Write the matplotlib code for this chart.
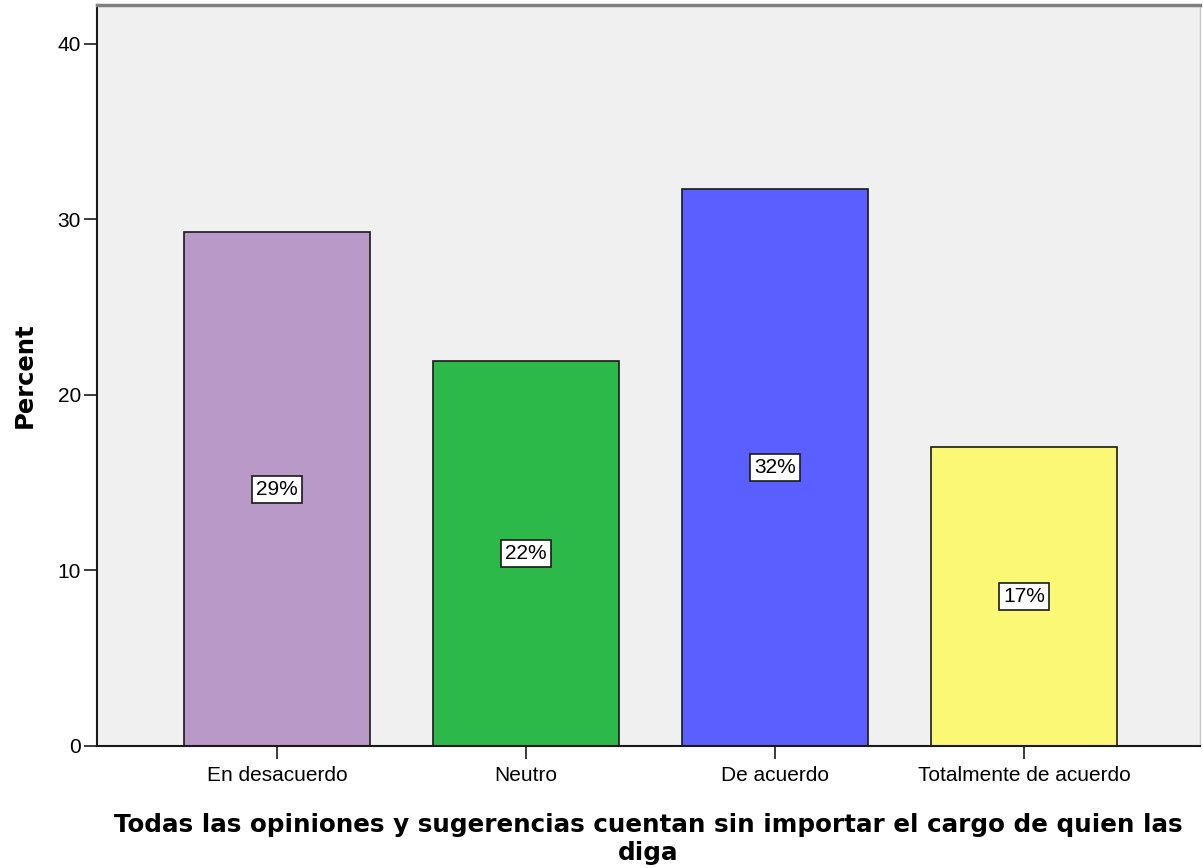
import numpy as np
import matplotlib.pyplot as plt

categorias = ['En desacuerdo', 'Neutro', 'De acuerdo', 'Totalmente de acuerdo']
porcentajes = [29.25, 21.95, 31.75, 17.05]
etiquetas = ['29%', '22%', '32%', '17%']
colores = ['#B899C8', '#2DB84A', '#5B5FFF', '#FAF874']

fig = plt.figure(figsize=(12.03, 8.68), dpi=100)
ax = fig.add_axes([0.0806, 0.1406, 0.917, 0.8536])
ax.set_facecolor('#F0F0F0')

x = np.arange(len(categorias))
ax.bar(x, porcentajes, width=0.747, color=colores, edgecolor='#1a1a1a', linewidth=1.2, zorder=2)

# etiquetas de porcentaje en el centro de cada barra
for xi, v, txt in zip(x, porcentajes, etiquetas):
    ax.text(xi, v / 2, txt, ha='center', va='center', fontsize=15, family='Liberation Sans',
            bbox=dict(boxstyle='square,pad=0.2', fc='white', ec='#1a1a1a', lw=1.2), zorder=3)

ax.set_xlim(-0.723, 3.707)
ax.set_ylim(0, 42.2)
ax.set_yticks([0, 10, 20, 30, 40])
ax.set_xticks(x)
ax.set_xticklabels(categorias)
ax.tick_params(axis='both', direction='out', length=9.5, width=1.2, color='#1a1a1a',
               labelsize=15, pad=2)
ax.tick_params(axis='x', pad=5)
for lab in ax.get_xticklabels() + ax.get_yticklabels():
    lab.set_family('Liberation Sans')

ax.spines['left'].set_color('#1a1a1a')
ax.spines['left'].set_linewidth(1.5)
ax.spines['bottom'].set_color('#1a1a1a')
ax.spines['bottom'].set_linewidth(1.5)
ax.spines['top'].set_color('#808080')
ax.spines['top'].set_linewidth(2.5)
ax.spines['right'].set_color('#c8c8c8')
ax.spines['right'].set_linewidth(1)

ax.set_ylabel('Percent', fontsize=17.5, fontweight='bold', family='DejaVu Sans', labelpad=15)
ax.set_xlabel('Todas las opiniones y sugerencias cuentan sin importar el cargo de quien las\ndiga',
              fontsize=17.7, fontweight='bold', family='DejaVu Sans', labelpad=20, linespacing=1.2)

fig.savefig('out.png', dpi=100)
